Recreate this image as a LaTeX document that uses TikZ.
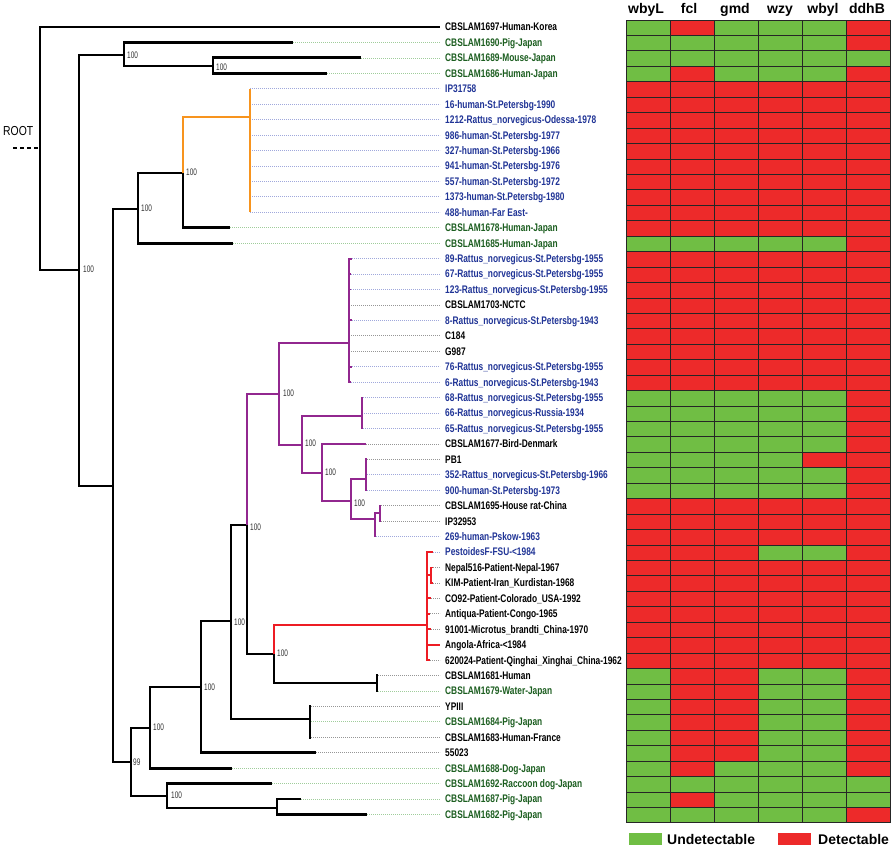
\documentclass[tikz,border=0pt]{standalone}
\usepackage{fontspec}
\setmainfont{Liberation Sans}
\newfontfamily\labfont{Liberation Sans}[FakeStretch=0.76]
\newfontfamily\bsfont{Liberation Sans}[FakeStretch=0.68]
\newfontfamily\rootfont{Liberation Sans}[FakeStretch=0.8]
\definecolor{hmG}{RGB}{112,190,68}
\definecolor{hmR}{RGB}{237,42,42}
\definecolor{txG}{RGB}{28,94,32}
\definecolor{txB}{RGB}{32,52,150}
\definecolor{dtG}{RGB}{160,205,155}
\definecolor{dtB}{RGB}{160,168,220}
\definecolor{dtK}{RGB}{150,150,150}
\definecolor{orng}{RGB}{247,148,30}
\definecolor{purp}{RGB}{146,39,143}
\definecolor{redc}{RGB}{237,28,36}
\newcommand\ry[1]{11.56+#1*15.44}
\newcommand\leafrow[5]{%
  \coordinate (e#1) at (#2,{\ry{#1}});
  \node[lab,#3] (l#1) at (445,{\ry{#1}}) {#5};
  \draw[#4] (e#1) -- (l#1.west);
}
\tikzset{
  brk/.style={line width=2.8pt, draw=black},
  brp/.style={line width=2.2pt, draw=purp},
  bro/.style={line width=2.2pt, draw=orng},
  brr/.style={line width=2.2pt, draw=redc},
  dotk/.style={draw=dtK, line width=0.7pt, dash pattern=on 1.2pt off 0.8pt, shorten >=5pt},
  dotg/.style={draw=dtG, line width=0.7pt, dash pattern=on 1.2pt off 0.8pt, shorten >=5pt},
  dotb/.style={draw=dtB, line width=0.7pt, dash pattern=on 1.2pt off 0.8pt, shorten >=5pt},
  nodot/.style={draw=none},
  txtk/.style={text=black},
  txtg/.style={text=txG},
  txtb/.style={text=txB},
  lab/.style={anchor=west, inner sep=0pt, font=\labfont\bfseries\fontsize{11}{11}\selectfont, text height=7.9pt, text depth=0pt},
  bs/.style={anchor=west, inner sep=0pt, font=\bsfont\fontsize{9.5}{9.5}\selectfont, text=black!80, text height=6.8pt, text depth=0pt},
  hdr/.style={anchor=base, inner sep=0pt, font=\bfseries\fontsize{14}{14}\selectfont},
  leg/.style={anchor=base west, inner sep=0pt, font=\bfseries\fontsize{14}{14}\selectfont},
  cellbox/.style={draw=black!85, line width=0.8pt}
}
\begin{document}
\begin{tikzpicture}[x=1pt,y=-1pt,line join=miter]
\useasboundingbox (0,0) rectangle (893,847);
\fill[white] (0,0) rectangle (893,847);

% ---------- internal nodes ----------
\coordinate (n0) at (40,148);
\coordinate (nA) at (79,270);
\coordinate (nB) at (124,55);
\coordinate (nC) at (213,66);
\coordinate (nF) at (113,486);
\coordinate (nD) at (138,209);
\coordinate (nE) at (183,173);
\coordinate (nOr) at (250,117);
\coordinate (nG) at (131,762);
\coordinate (nH) at (150,728);
\coordinate (nI) at (167,796);
\coordinate (nW) at (277,808);
\coordinate (nJ) at (201,687);
\coordinate (nK) at (231,621);
\coordinate (nL) at (310,719);
\coordinate (nM) at (247,525);
\coordinate (nN) at (274,654);
\coordinate (nX) at (377,683);
\coordinate (nRd) at (427,625);
\coordinate (nRs) at (431,575);
\coordinate (nO) at (279,394);
\coordinate (nP) at (349,343);
\coordinate (nQ) at (302,445);
\coordinate (nR) at (362,416);
\coordinate (nS) at (322,473);
\coordinate (nT) at (351,501);
\coordinate (nU) at (366,479);
\coordinate (nV) at (375,519);
\coordinate (nVs) at (380,513);

% ---------- leaves ----------
\coordinate (e1) at (440,27);
\node[lab,txtk] (l1) at (445,27) {CBSLAM1697-Human-Korea};
\leafrow{2}{293}{txtg}{dotg}{CBSLAM1690-Pig-Japan}
\leafrow{3}{361}{txtg}{dotg}{CBSLAM1689-Mouse-Japan}
\leafrow{4}{327}{txtg}{dotg}{CBSLAM1686-Human-Japan}
\leafrow{5}{250}{txtb}{dotb}{IP31758}
\leafrow{6}{250}{txtb}{dotb}{16-human-St.Petersbg-1990}
\leafrow{7}{250}{txtb}{dotb}{1212-Rattus\_norvegicus-Odessa-1978}
\leafrow{8}{250}{txtb}{dotb}{986-human-St.Petersbg-1977}
\leafrow{9}{250}{txtb}{dotb}{327-human-St.Petersbg-1966}
\leafrow{10}{250}{txtb}{dotb}{941-human-St.Petersbg-1976}
\leafrow{11}{250}{txtb}{dotb}{557-human-St.Petersbg-1972}
\leafrow{12}{250}{txtb}{dotb}{1373-human-St.Petersbg-1980}
\leafrow{13}{250}{txtb}{dotb}{488-human-Far East-}
\leafrow{14}{230}{txtg}{dotg}{CBSLAM1678-Human-Japan}
\leafrow{15}{233}{txtg}{dotg}{CBSLAM1685-Human-Japan}
\leafrow{16}{352}{txtb}{dotb}{89-Rattus\_norvegicus-St.Petersbg-1955}
\leafrow{17}{351}{txtb}{dotb}{67-Rattus\_norvegicus-St.Petersbg-1955}
\leafrow{18}{351}{txtb}{dotb}{123-Rattus\_norvegicus-St.Petersbg-1955}
\leafrow{19}{349}{txtk}{dotk}{CBSLAM1703-NCTC}
\leafrow{20}{352}{txtb}{dotb}{8-Rattus\_norvegicus-St.Petersbg-1943}
\leafrow{21}{349}{txtk}{dotk}{C184}
\leafrow{22}{349}{txtk}{dotk}{G987}
\leafrow{23}{352}{txtb}{dotb}{76-Rattus\_norvegicus-St.Petersbg-1955}
\leafrow{24}{351}{txtb}{dotb}{6-Rattus\_norvegicus-St.Petersbg-1943}
\leafrow{25}{363}{txtb}{dotb}{68-Rattus\_norvegicus-St.Petersbg-1955}
\leafrow{26}{362}{txtb}{dotb}{66-Rattus\_norvegicus-Russia-1934}
\leafrow{27}{363}{txtb}{dotb}{65-Rattus\_norvegicus-St.Petersbg-1955}
\leafrow{28}{366}{txtk}{dotk}{CBSLAM1677-Bird-Denmark}
\leafrow{29}{367}{txtk}{dotk}{PB1}
\leafrow{30}{367}{txtb}{dotb}{352-Rattus\_norvegicus-St.Petersbg-1966}
\leafrow{31}{367}{txtb}{dotb}{900-human-St.Petersbg-1973}
\leafrow{32}{381}{txtk}{dotk}{CBSLAM1695-House rat-China}
\leafrow{33}{381}{txtk}{dotk}{IP32953}
\leafrow{34}{376}{txtb}{dotb}{269-human-Pskow-1963}
\leafrow{35}{433}{txtb}{dotb}{PestoidesF-FSU-<1984}
\leafrow{36}{433}{txtk}{dotk}{Nepal516-Patient-Nepal-1967}
\leafrow{37}{433}{txtk}{dotk}{KIM-Patient-Iran\_Kurdistan-1968}
\leafrow{38}{431}{txtk}{dotk}{CO92-Patient-Colorado\_USA-1992}
\leafrow{39}{430}{txtk}{dotk}{Antiqua-Patient-Congo-1965}
\leafrow{40}{431}{txtk}{dotk}{91001-Microtus\_brandti\_China-1970}
\leafrow{41}{440}{txtk}{nodot}{Angola-Africa-<1984}
\leafrow{42}{430}{txtk}{dotk}{620024-Patient-Qinghai\_Xinghai\_China-1962}
\leafrow{43}{378}{txtk}{dotk}{CBSLAM1681-Human}
\leafrow{44}{378}{txtg}{dotg}{CBSLAM1679-Water-Japan}
\leafrow{45}{311}{txtk}{dotk}{YPIII}
\leafrow{46}{311}{txtg}{dotg}{CBSLAM1684-Pig-Japan}
\leafrow{47}{311}{txtk}{dotk}{CBSLAM1683-Human-France}
\leafrow{48}{316}{txtk}{dotk}{55023}
\leafrow{49}{232}{txtg}{dotg}{CBSLAM1688-Dog-Japan}
\leafrow{50}{272}{txtg}{dotg}{CBSLAM1692-Raccoon dog-Japan}
\leafrow{51}{301}{txtg}{dotg}{CBSLAM1687-Pig-Japan}
\leafrow{52}{367}{txtg}{dotg}{CBSLAM1682-Pig-Japan}

% ---------- black branches ----------
\draw[brk] (n0) |- (e1);
\draw[brk] (n0) |- (nA);
\draw[brk] (nA) |- (nB);
\draw[brk] (nA) |- (nF);
\draw[brk] (nB) |- (e2);
\draw[brk] (nB) |- (nC);
\draw[brk] (nC) |- (e3);
\draw[brk] (nC) |- (e4);
\draw[brk] (nF) |- (nD);
\draw[brk] (nF) |- (nG);
\draw[brk] (nD) |- (nE);
\draw[brk] (nD) |- (e15);
\draw[brk] (nE) |- (e14);
\draw[brk] (nG) |- (nH);
\draw[brk] (nG) |- (nI);
\draw[brk] (nH) |- (nJ);
\draw[brk] (nH) |- (e49);
\draw[brk] (nJ) |- (nK);
\draw[brk] (nJ) |- (e48);
\draw[brk] (nK) |- (nL);
\draw[brk] (nK) |- (nM);
\draw[brk] (nL) |- (e45);
\draw[brk] (nL) |- (e46);
\draw[brk] (nL) |- (e47);
\draw[brk] (nM) |- (nN);
\draw[brk] (nN) |- (nX);
\draw[brk] (nX) |- (e43);
\draw[brk] (nX) |- (e44);
\draw[brk] (nI) |- (e50);
\draw[brk] (nI) |- (nW);
\draw[brk] (nW) |- (e51);
\draw[brk] (nW) |- (e52);

% ---------- orange clade ----------
\draw[bro] (nE) |- (nOr);
\foreach \k in {5,...,13} { \draw[bro] (nOr) |- (e\k); }

% ---------- purple clade ----------
\draw[brp] (nM) |- (nO);
\draw[brp] (nO) |- (nP);
\draw[brp] (nO) |- (nQ);
\foreach \k in {16,...,24} { \draw[brp, line width=1.8pt] (nP) |- (e\k); }
\draw[brp] (nQ) |- (nR);
\draw[brp] (nQ) |- (nS);
\foreach \k in {25,26,27} { \draw[brp, line width=1.8pt] (nR) |- (e\k); }
\draw[brp] (nS) |- (e28);
\draw[brp] (nS) |- (nT);
\draw[brp] (nT) |- (nU);
\draw[brp] (nT) |- (nV);
\foreach \k in {29,30,31} { \draw[brp, line width=1.8pt] (nU) |- (e\k); }
\draw[brp, line width=1.8pt] (nV) |- (nVs);
\draw[brp, line width=1.8pt] (nV) |- (e34);
\draw[brp, line width=1.8pt] (nVs) |- (e32);
\draw[brp, line width=1.8pt] (nVs) |- (e33);

% ---------- red clade ----------
\draw[brr] (nN) |- (nRd);
\draw[brr, line width=1.8pt] (nRd) |- (e35);
\draw[brr, line width=1.8pt] (nRd) |- (nRs);
\draw[brr, line width=1.8pt] (nRs) |- (e36);
\draw[brr, line width=1.8pt] (nRs) |- (e37);
\foreach \k in {38,39,40,42} { \draw[brr, line width=1.8pt] (nRd) |- (e\k); }
\draw[brr] (nRd) |- (e41);

% ---------- bootstrap values ----------
\node[bs] (bB) at (127,55) {100};
\node[bs] (bC) at (216,67) {100};
\node[bs] (bA) at (83,269) {100};
\node[bs] (bD) at (141,208) {100};
\node[bs] (bE) at (186,172) {100};
\node[bs] (bO) at (283,393) {100};
\node[bs] (bQ) at (305,443) {100};
\node[bs] (bS) at (325,472) {100};
\node[bs] (bT) at (354,503) {100};
\node[bs] (bM) at (250,527) {100};
\node[bs] (bN) at (277,653) {100};
\node[bs] (bK) at (234,622) {100};
\node[bs] (bJ) at (204,687) {100};
\node[bs] (bH) at (153,727) {100};
\node[bs] (bG) at (133,762) {99};
\node[bs] (bI) at (171,795) {100};

% ---------- root ----------
\node[anchor=base west, inner sep=0pt, font=\rootfont\fontsize{13}{13}\selectfont] (rootlab) at (3,135) {ROOT};
\coordinate (rootend) at (13,148);
\draw[line width=1.6pt, dash pattern=on 4pt off 3pt] (rootend) -- (n0);

% ---------- heatmap ----------
\foreach \row [count=\i] in {
 {G,R,G,G,G,R},{G,G,G,G,G,R},{G,G,G,G,G,G},{G,R,G,G,G,R},
 {R,R,R,R,R,R},{R,R,R,R,R,R},{R,R,R,R,R,R},{R,R,R,R,R,R},{R,R,R,R,R,R},
 {R,R,R,R,R,R},{R,R,R,R,R,R},{R,R,R,R,R,R},{R,R,R,R,R,R},{R,R,R,R,R,R},
 {G,G,G,G,G,R},
 {R,R,R,R,R,R},{R,R,R,R,R,R},{R,R,R,R,R,R},{R,R,R,R,R,R},{R,R,R,R,R,R},
 {R,R,R,R,R,R},{R,R,R,R,R,R},{R,R,R,R,R,R},{R,R,R,R,R,R},
 {G,G,G,G,G,R},{G,G,G,G,G,R},{G,G,G,G,G,R},{G,G,G,G,G,R},
 {G,G,G,G,R,R},{G,G,G,G,G,R},{G,G,G,G,G,R},
 {R,R,R,R,R,R},{R,R,R,R,R,R},{R,R,R,R,R,R},
 {R,R,R,G,G,R},
 {R,R,R,R,R,R},{R,R,R,R,R,R},{R,R,R,R,R,R},{R,R,R,R,R,R},{R,R,R,R,R,R},
 {R,R,R,R,R,R},{R,R,R,R,R,R},
 {G,R,R,G,G,R},{G,R,R,G,G,R},{G,R,R,G,G,R},{G,R,R,G,G,R},{G,R,R,G,G,R},{G,R,R,G,G,R},
 {G,R,G,G,G,R},{G,G,G,G,G,G},{G,R,G,G,G,G},{G,G,G,G,G,R}} {
  \foreach \c [count=\j] in \row {
    \filldraw[cellbox, fill=hm\c] ({626+(\j-1)*44},{20+(\i-1)*15.44}) rectangle ++(44,15.44);
  }
}

% ---------- headers ----------
\node[hdr] (h1) at (646,13.5) {wbyL};
\node[hdr] (h2) at (689,13.5) {fcl};
\node[hdr] (h3) at (735,13.5) {gmd};
\node[hdr] (h4) at (780,13.5) {wzy};
\node[hdr] (h5) at (823,13.5) {wbyl};
\node[hdr] (h6) at (867,13.5) {ddhB};

% ---------- legend ----------
\fill[hmG] (629,833) rectangle (662,845);
\node[leg] (lgU) at (667,844) {Undetectable};
\fill[hmR] (778,833) rectangle (811,845);
\node[leg] (lgD) at (818,844) {Detectable};
\end{tikzpicture}
\end{document}
